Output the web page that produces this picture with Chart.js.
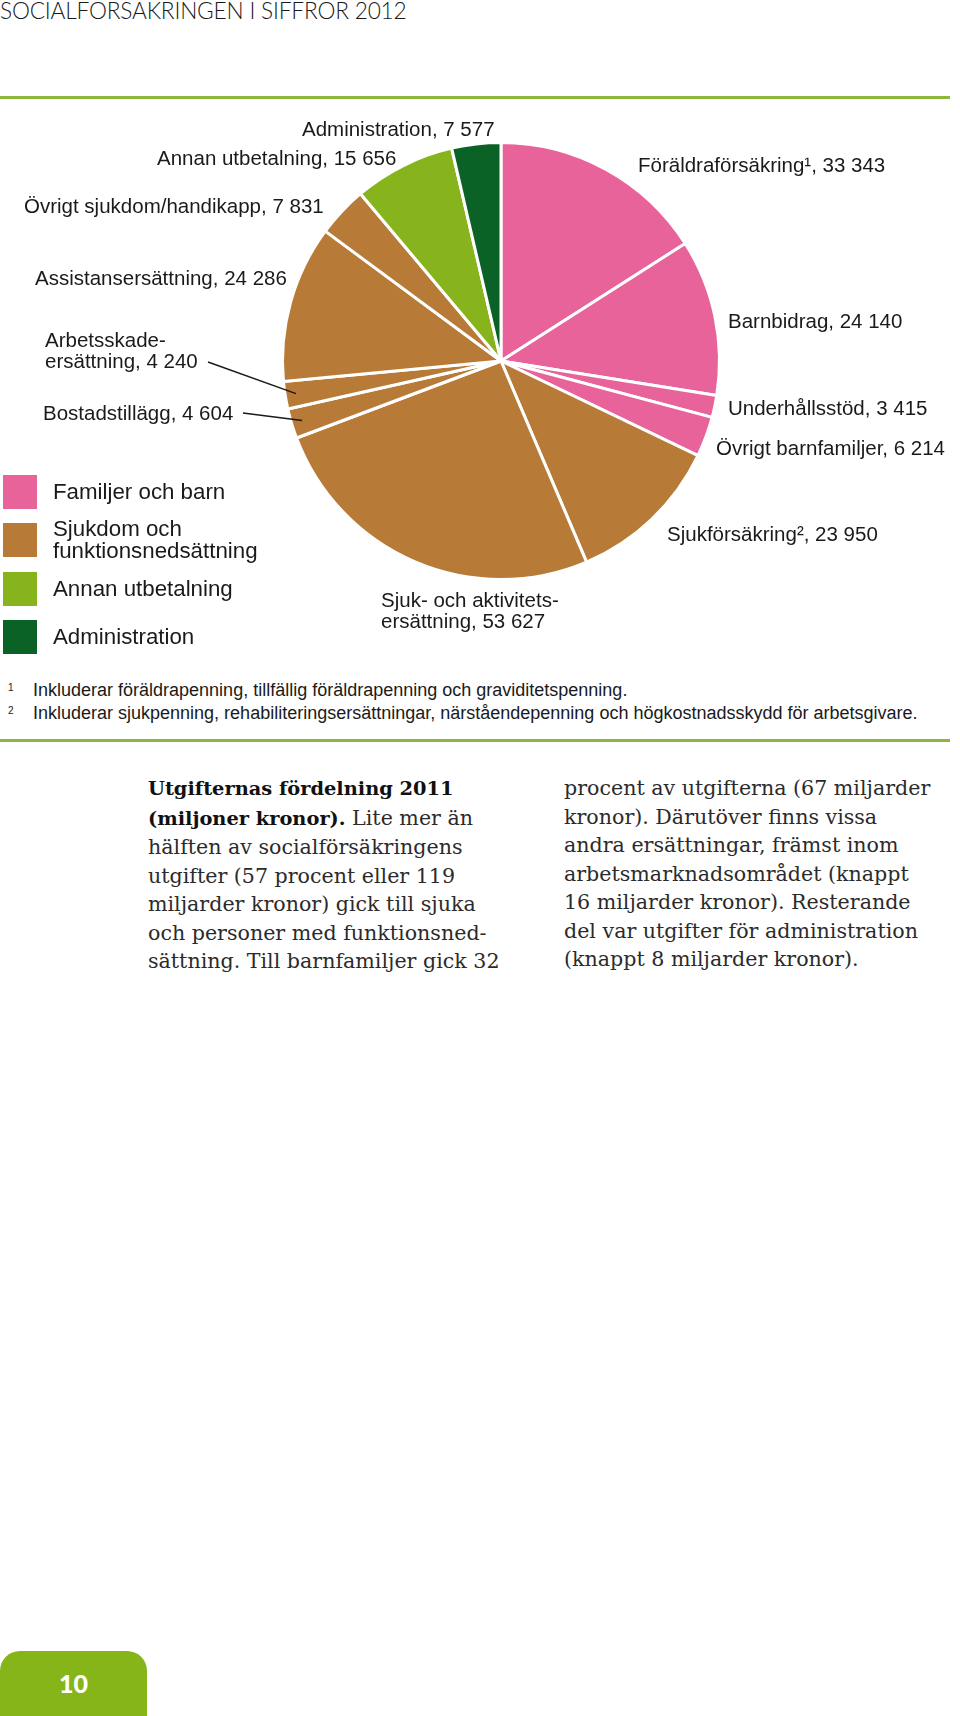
<!DOCTYPE html>
<html lang="sv">
<head>
<meta charset="UTF-8" />
<title>Utgifternas fördelning 2011</title>
<script src="https://cdn.jsdelivr.net/npm/chart.js"></script>
<style>
    html, body { margin: 0; padding: 0; background: #fff; }
    body { width: 960px; height: 1716px; position: relative; overflow: hidden; font-family: "Liberation Sans", Arial, sans-serif; color: #1a1a1a; }
    .rubrik { position: absolute; left: 0; top: 0; font-family: Lato, sans-serif; font-weight: 300; font-size: 22.7px; line-height: 22px; letter-spacing: -0.2px; }
    .linje { position: absolute; left: 0; width: 950px; height: 3px; background: #8db83a; }
    .diagram { position: absolute; left: 0; top: 100px; width: 960px; height: 560px; }
    .etikett { position: absolute; font-size: 20.5px; line-height: 21px; white-space: nowrap; transform: translateY(-50%); }
    .forklaring { position: absolute; left: 0; top: 0; }
    .rad { position: absolute; left: 3px; width: 400px; height: 34px; display: flex; align-items: center; }
    .ruta { width: 34px; height: 34px; margin-right: 16px; flex: none; }
    .rad span { font-size: 22.3px; line-height: 22px; white-space: nowrap; }
    .fotnot { position: absolute; left: 33px; font-size: 18px; line-height: 20px; white-space: nowrap; transform: translateY(-50%); }
    .fotnot sup { position: absolute; left: -25px; top: -2px; font-size: 10px; }
    .spalt { position: absolute; top: 774px; font-family: "DejaVu Serif", serif; font-size: 20.6px; line-height: 28.5px; color: #2b2b2b; white-space: nowrap; }
    .spalt b { color: #111; font-size: 19.4px; }
    .sida { position: absolute; left: 0; top: 1651px; width: 147px; height: 65px; background: #86b51a; border-radius: 20px 20px 0 0; color: #fff; font-family: Lato, sans-serif; font-weight: 900; font-size: 25px; line-height: 64px; text-align: center; }
</style>
</head>
<body>

<div class="rubrik">SOCIALFÖRSÄKRINGEN I SIFFROR 2012</div>
<div class="linje" style="top: 96px;"></div>

<div class="diagram"><canvas id="grafico"></canvas></div>
<div id="etiketter"></div>
<div id="forklaring" class="forklaring"></div>

<div class="fotnot" style="top: 690px;"><sup>1</sup>Inkluderar föräldrapenning, tillfällig föräldrapenning och graviditetspenning.</div>
<div class="fotnot" style="top: 713px;"><sup>2</sup>Inkluderar sjukpenning, rehabiliteringsersättningar, närståendepenning och högkostnadsskydd för arbetsgivare.</div>
<div class="linje" style="top: 739px;"></div>

<div class="spalt" style="left: 148px;">
    <b>Utgifternas fördelning 2011</b><br>
    <b>(miljoner kronor).</b> Lite mer än<br>
    hälften av socialförsäkringens<br>
    utgifter (57 procent eller 119<br>
    miljarder kronor) gick till sjuka<br>
    och personer med funktionsned-<br>
    sättning. Till barnfamiljer gick 32
</div>
<div class="spalt" style="left: 564px;">
    procent av utgifterna (67 miljarder<br>
    kronor). Därutöver finns vissa<br>
    andra ersättningar, främst inom<br>
    arbetsmarknadsområdet (knappt<br>
    16 miljarder kronor). Resterande<br>
    del var utgifter för administration<br>
    (knappt 8 miljarder kronor).
</div>

<div class="sida">10</div>

<script>
    // data (miljoner kronor), medurs från klockan tolv
    const kategorier = [
        'Föräldraförsäkring¹', 'Barnbidrag', 'Underhållsstöd', 'Övrigt barnfamiljer',
        'Sjukförsäkring²', 'Sjuk- och aktivitetsersättning', 'Bostadstillägg',
        'Arbetsskadeersättning', 'Assistansersättning', 'Övrigt sjukdom/handikapp',
        'Annan utbetalning', 'Administration'
    ];
    const belopp = [33343, 24140, 3415, 6214, 23950, 53627, 4604, 4240, 24286, 7831, 15656, 7577];
    const grupp = [0, 0, 0, 0, 1, 1, 1, 1, 1, 1, 2, 3];
    const grupper = ['Familjer och barn', 'Sjukdom och\nfunktionsnedsättning', 'Annan utbetalning', 'Administration'];
    const gruppFarger = ['#e7639a', '#b77b37', '#87b41d', '#0b6226'];

    // var etiketterna står (x, mitten y), och vilka som bryts
    const etikettPos = [
        { x: 638, y: 164 }, { x: 728, y: 320 }, { x: 728, y: 407 }, { x: 716, y: 447 },
        { x: 667, y: 533 }, { x: 381, y: 610, bryt: true }, { x: 43, y: 412 },
        { x: 45, y: 350, bryt: true }, { x: 35, y: 277 }, { x: 24, y: 205 },
        { x: 157, y: 157 }, { x: 302, y: 128 }
    ];
    // hänvisningslinjer: slice-index -> startpunkt (canvas-koordinater)
    const linjer = { 6: [243, 313], 7: [208, 262] };

    function formatera(v) {
        return String(v).replace(/\B(?=(\d{3})+(?!\d))/g, ' ');
    }

    const etiketter = document.getElementById('etiketter');
    kategorier.forEach((namn, i) => {
        const p = etikettPos[i];
        let text = namn;
        if (p.bryt) {
            const k = text.lastIndexOf('ersättning');
            text = text.slice(0, k) + '-<br>' + text.slice(k);
        }
        const el = document.createElement('div');
        el.className = 'etikett';
        el.style.left = p.x + 'px';
        el.style.top = p.y + 'px';
        el.innerHTML = text + ', ' + formatera(belopp[i]);
        etiketter.appendChild(el);
    });

    const forklaring = document.getElementById('forklaring');
    grupper.forEach((g, i) => {
        const rad = document.createElement('div');
        rad.className = 'rad';
        rad.style.top = (475 + i * 48.4) + 'px';
        rad.innerHTML = '<div class="ruta" style="background:' + gruppFarger[i] + '"></div><span>' + g.replace('\n', '<br>') + '</span>';
        forklaring.appendChild(rad);
    });

    const hanvisning = {
        id: 'hanvisning',
        afterDatasetsDraw(chart) {
            const ctx = chart.ctx;
            const meta = chart.getDatasetMeta(0);
            ctx.save();
            ctx.strokeStyle = '#1a1a1a';
            ctx.lineWidth = 1.5;
            Object.keys(linjer).forEach(idx => {
                const arc = meta.data[idx];
                const { x, y, startAngle, endAngle, outerRadius } = arc.getProps(['x', 'y', 'startAngle', 'endAngle', 'outerRadius'], true);
                const mid = (startAngle + endAngle) / 2;
                const r = outerRadius * 0.95;
                ctx.beginPath();
                ctx.moveTo(linjer[idx][0], linjer[idx][1]);
                ctx.lineTo(x + Math.cos(mid) * r, y + Math.sin(mid) * r);
                ctx.stroke();
            });
            ctx.restore();
        }
    };

    const ctx = document.getElementById('grafico').getContext('2d');
    new Chart(ctx, {
        type: 'pie',
        data: {
            labels: kategorier,
            datasets: [{
                data: belopp,
                backgroundColor: grupp.map(g => gruppFarger[g]),
                borderColor: '#ffffff',
                borderWidth: 3
            }]
        },
        options: {
            responsive: true,
            maintainAspectRatio: false,
            animation: false,
            layout: { padding: { left: 281, right: 239, top: 41, bottom: 79 } },
            plugins: {
                legend: { display: false },
                tooltip: { enabled: false }
            }
        },
        plugins: [hanvisning]
    });
</script>
</body>
</html>
